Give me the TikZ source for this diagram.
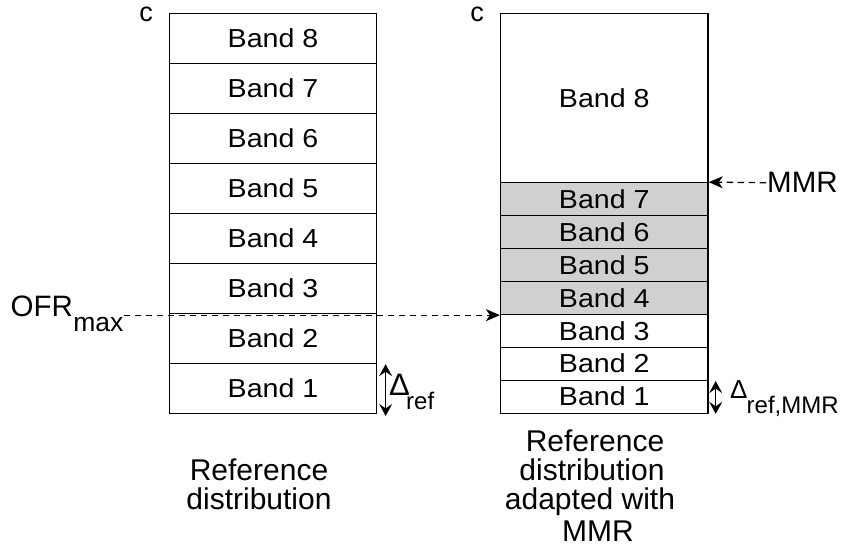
\documentclass[tikz,border=0pt]{standalone}
\usepackage{fontspec}
\setmainfont{Liberation Sans}
\newfontfamily\bandfont{Liberation Sans}[FakeStretch=1.1]
\usetikzlibrary{arrows.meta}
\definecolor{bandgray}{RGB}{208,208,208}
\newcommand{\fs}[1]{\fontsize{#1}{#1}\selectfont}
\begin{document}
\begin{tikzpicture}[x=1pt,y=-1pt,
  lband/.style={draw,line width=1.3pt,minimum width=207pt,minimum height=50pt,inner sep=0pt,font=\bandfont\fs{26}},
  rband/.style={draw,line width=1.3pt,minimum width=207.5pt,minimum height=33pt,inner sep=0pt,font=\bandfont\fs{26}},
  shaded/.style={fill=bandgray},
  lbl/.style={inner sep=0pt,anchor=base},
  dashline/.style={line width=1.3pt,dash pattern=on 6.5pt off 4.5pt,-{Stealth[length=14pt,width=12pt,inset=4pt]}},
  delta/.style={line width=1.3pt,{Stealth[length=12pt,width=13pt,inset=4.5pt]}-{Stealth[length=12pt,width=13pt,inset=4.5pt]}}]
\useasboundingbox (0,0) rectangle (841,555);

% reference distribution: eight equal bands
\foreach \k in {1,...,8}{
  \node[lband] (l\k) at (273,{413.3-50*(\k-0.5)}) {Band \k};
}

% adapted distribution: narrow bands 1-7, wide band 8
\node[rband] (r1) at (604.3,396.7) {Band 1};
\node[rband] (r2) at (604.3,363.7) {Band 2};
\node[rband] (r3) at (604.3,330.8) {Band 3};
\node[rband,shaded] (r4) at (604.3,298) {Band 4};
\node[rband,shaded] (r5) at (604.3,265) {Band 5};
\node[rband,shaded] (r6) at (604.3,232.3) {Band 6};
\node[rband,shaded] (r7) at (604.3,199.3) {Band 7};
\node[rband,minimum height=169.4pt] (r8) at (604.3,98) {Band 8};

% axis labels
\node[lbl,font=\fs{27}] (cl) at (146,21.5) {c};
\node[lbl,font=\fs{27}] (cr) at (477,21.5) {c};

% OFR_max marker
\node[lbl,anchor=base west,font=\fs{29.5}] (ofr) at (10.5,316.5) {OFR};
\node[lbl,anchor=base west,font=\fs{26.5}] (ofrsub) at (ofr.base east) [yshift=-15pt] {max};
\draw[dashline] (ofrsub.east |- r4.south west) -- (r4.south west);

% MMR marker
\node[anchor=west,inner sep=1pt,font=\fs{29.5}] (mmr) at (766,182.7) {MMR};
\draw[dashline] (mmr.west) -- (r7.north east);

% band widths
\draw[delta] ([xshift=8.5pt,yshift=-1.5pt]l1.north east) -- ([xshift=8.5pt,yshift=-2pt]l1.south east);
\node[lbl,anchor=base west,font=\fs{31}] (dl) at (389,395) {Δ};
\node[lbl,anchor=base west,font=\fs{24}] (dlsub) at (406,409) {ref};
\draw[delta] ([xshift=7pt,yshift=-1.5pt]r1.north east) -- ([xshift=7pt]r1.south east);
\node[lbl,anchor=base west,font=\fs{26}] (dr) at (730,398.5) {Δ};
\node[lbl,anchor=base west,font=\fs{24}] (drsub) at (746.5,413) {ref,MMR};

% captions
\node[lbl,font=\fs{30}] (capl1) at (259,480.5) {Reference};
\node[lbl,font=\fs{30}] (capl2) at (259,509.5) {distribution};
\node[lbl,font=\fs{30}] (capr1) at (595,451.5) {Reference};
\node[lbl,font=\fs{30}] (capr2) at (592,480) {distribution};
\node[lbl,font=\fs{30}] (capr3) at (590,509) {adapted with};
\node[lbl,font=\fs{30}] (capr4) at (598,541) {MMR};
\end{tikzpicture}
\end{document}
